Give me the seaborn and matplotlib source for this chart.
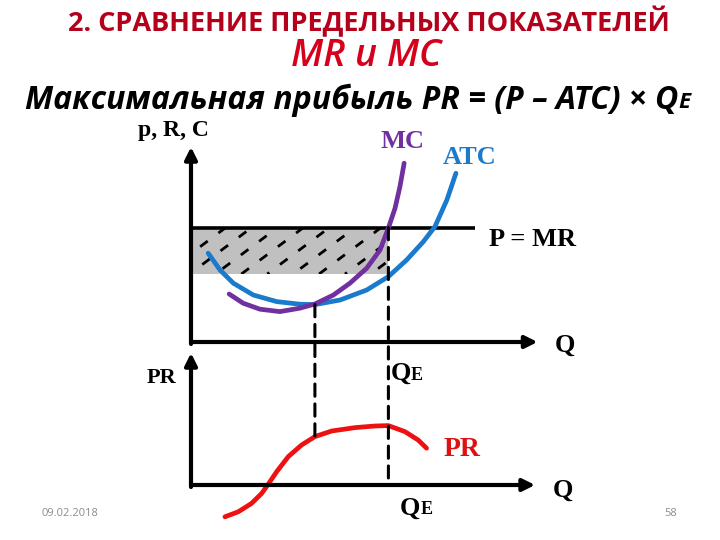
import matplotlib.pyplot as plt
import numpy as np
import seaborn as sns
from matplotlib.patches import Rectangle, ConnectionPatch

# upper panel: marginal cost and average total cost (Q, cost)
mc_q = [1.09, 1.49, 1.97, 2.54, 3.11, 3.54, 4.07, 4.54, 5.02, 5.40, 5.64, 5.83, 5.97, 6.09]
mc_c = [2.40, 1.94, 1.64, 1.52, 1.69, 1.90, 2.35, 2.94, 3.69, 4.60, 5.70, 6.69, 7.77, 8.94]
atc_q = [0.49, 0.83, 1.21, 1.78, 2.45, 3.11, 3.54, 4.26, 5.02, 5.64, 6.16, 6.64, 6.97,
         7.31, 7.57]
atc_c = [4.44, 3.60, 2.94, 2.35, 2.02, 1.89, 1.87, 2.10, 2.60, 3.27, 4.10, 5.02, 5.77,
         7.10, 8.44]

# lower panel: profit curve
pr_q = [0.97, 1.35, 1.73, 2.02, 2.21, 2.45, 2.78, 3.16, 3.54, 4.02, 4.69, 5.26, 5.64,
        6.11, 6.49, 6.73]
pr_v = [-1.59, -1.34, -0.92, -0.42, 0.05, 0.67, 1.42, 2.00, 2.42, 2.70, 2.87, 2.95, 2.97,
        2.67, 2.25, 1.84]

price = 5.72         # P = MR
q_e = 5.64           # profit maximising output
q_min = 3.54         # ATC minimum
atc_min = 1.87
atc_at_qe = 3.4
pr_at_qmin = 2.42
pr_end_qe = 0.35

W, H = 720, 540

sns.set_theme(style='white')
plt.rcParams['font.family'] = ['Liberation Serif', 'DejaVu Serif']
plt.rcParams['text.color'] = 'black'
fig = plt.figure(figsize=(7.2, 5.4), dpi=100)
fig.patch.set_facecolor('white')

ax_top = fig.add_axes([191 / W, (H - 342) / H, 350 / W, 200 / H])
ax_bot = fig.add_axes([191 / W, 15 / H, 350 / W, 200 / H])
ax_top.set(xlim=(0, 10), ylim=(0, 10))
ax_bot.set(xlim=(0, 10), ylim=(-2, 8))
for ax in (ax_top, ax_bot):
    ax.axis('off')
    ax.patch.set_alpha(0)

# profit rectangle with dashed hatching
rect = Rectangle((0, atc_at_qe), q_e, price - atc_at_qe, facecolor='#c0c0c0',
                 edgecolor='none', zorder=1)
ax_top.add_patch(rect)
slope = 1.31
for i, q0 in enumerate(np.arange(-3.0, q_e, 0.74)):
    hq = [q0, q0 + (price - atc_at_qe) / slope]
    hl, = ax_top.plot(hq, [atc_at_qe, price], color='black', lw=2.0, zorder=2,
                      linestyle=(2.5 * (i % 3), (3.4, 4.8)), solid_capstyle='butt')
    hl.set_clip_path(rect)

ax_top.plot([0, 8.11], [price, price], color='black', lw=2.6, zorder=3,
            solid_capstyle='butt')

sns.lineplot(x=atc_q, y=atc_c, ax=ax_top, color='#1a7acb', lw=3.4, zorder=4)
sns.lineplot(x=mc_q, y=mc_c, ax=ax_top, color='#7030a0', lw=3.4, zorder=5)
sns.lineplot(x=pr_q, y=pr_v, ax=ax_bot, color='#ee1111', lw=3.4, zorder=4)

# axes with arrows
arrow = dict(arrowstyle='-|>', lw=3, color='black', mutation_scale=18,
             shrinkA=0, shrinkB=0)
ax_top.annotate('', xy=(9.9, 0), xytext=(0, 0), arrowprops=arrow, zorder=6)
ax_top.annotate('', xy=(0, 9.75), xytext=(0, -0.1), arrowprops=arrow, zorder=6)
ax_bot.annotate('', xy=(9.83, 0), xytext=(0, 0), arrowprops=arrow, zorder=6)
ax_bot.annotate('', xy=(0, 6.6), xytext=(0, -0.1), arrowprops=arrow, zorder=6)

# dashed drop lines
for q, top_v, bot_v in [(q_min, atc_min, pr_at_qmin), (q_e, price, pr_end_qe)]:
    con = ConnectionPatch(xyA=(q, top_v), coordsA=ax_top.transData,
                          xyB=(q, bot_v), coordsB=ax_bot.transData,
                          color='black', lw=2.2, linestyle=(0, (4, 2.5)), zorder=7)
    fig.add_artist(con)

lab = dict(fontweight='bold', va='center')
ax_top.text(-0.51, 10.6, 'p, R, C', fontsize=17, ha='center', **lab)
ax_top.text(6.03, 10.0, 'MC', fontsize=19, ha='center', color='#7030a0', **lab)
ax_top.text(7.97, 9.25, 'ATC', fontsize=19, ha='center', color='#1a7acb', **lab)
ax_top.text(8.51, 5.1, 'P = MR', fontsize=19, ha='left', **lab)
ax_top.text(10.69, -0.15, 'Q', fontsize=19, ha='center', **lab)

ax_bot.text(-0.83, 5.35, 'PR', fontsize=16, ha='center', **lab)
ax_bot.text(7.74, 1.75, 'PR', fontsize=20, ha='center', color='#dd1111', **lab)
ax_bot.text(10.63, -0.25, 'Q', fontsize=19, ha='center', **lab)
for qx, yv in [(6.28, 5.6), (6.55, -1.15)]:
    ax_bot.text(qx, yv, 'Q', fontsize=19, ha='right', **lab)
    ax_bot.text(qx, yv - 0.1, 'E', fontsize=13, ha='left', **lab)

# slide titles
sans = ['Open Sans', 'DejaVu Sans']
fig.text(369 / W, 1 - 22 / H, '2. СРАВНЕНИЕ ПРЕДЕЛЬНЫХ ПОКАЗАТЕЛЕЙ', family=sans,
         fontsize=19.5, fontweight='bold', color='#b3001b', ha='center', va='center')
fig.text(366 / W, 1 - 56 / H, 'MR и MC', family=sans, fontsize=27, style='italic',
         fontweight='semibold', color='#d6001c', ha='center', va='center')
fig.text(678 / W, 1 - 100 / H, 'Максимальная прибыль PR = (P – ATC) × Q', family=sans,
         fontsize=23, style='italic', fontweight='bold', color='black',
         ha='right', va='center')
fig.text(678 / W, 1 - 103 / H, 'E', family=sans, fontsize=16, style='italic',
         fontweight='bold', color='black', ha='left', va='center')

fig.text(70 / W, 1 - 514 / H, '09.02.2018', family=sans, fontsize=8,
         color='#8c8c8c', ha='center', va='center')
fig.text(671 / W, 1 - 514 / H, '58', family=sans, fontsize=8,
         color='#8c8c8c', ha='center', va='center')

fig.savefig('out.png', dpi=100, facecolor='white')
